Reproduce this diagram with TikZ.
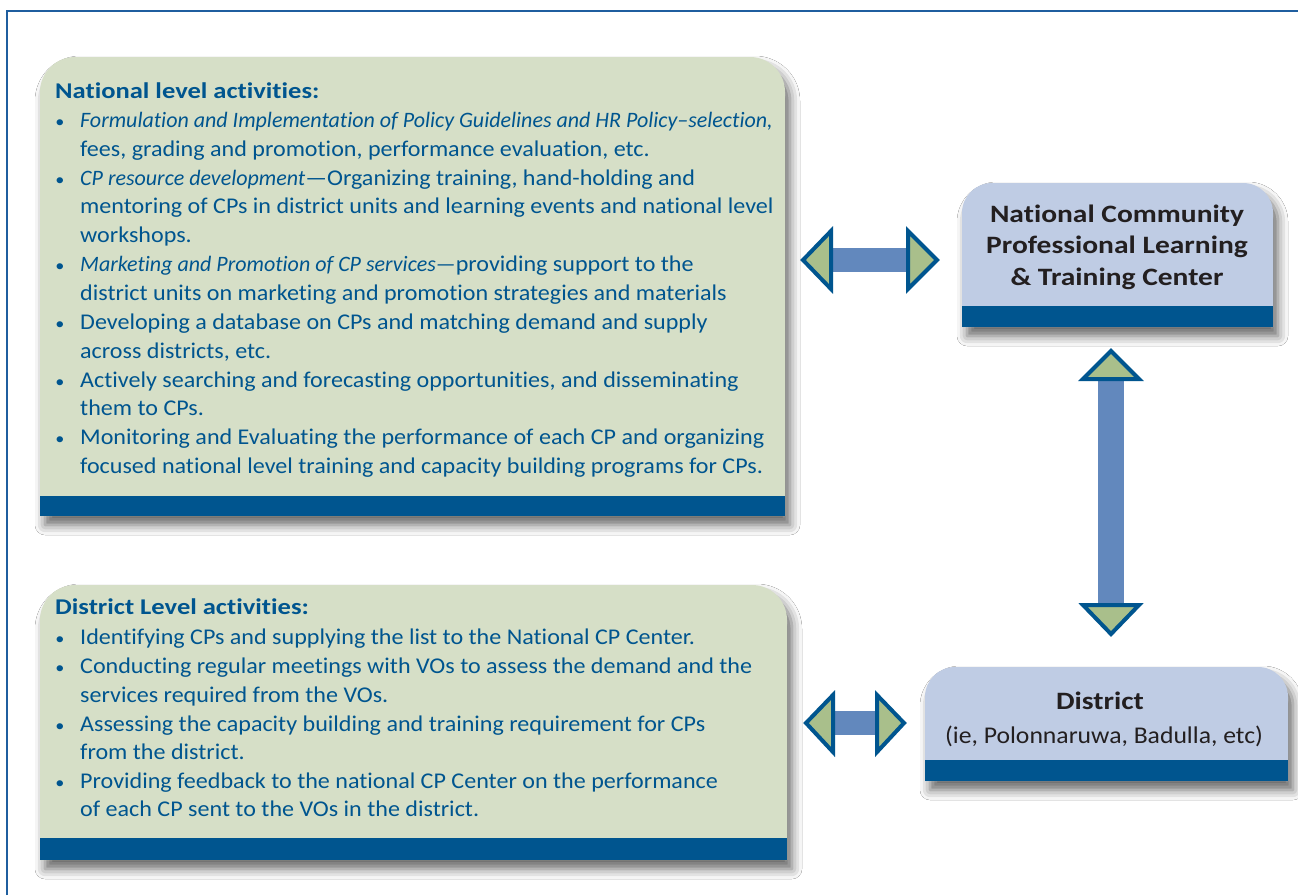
\documentclass[tikz,border=0pt]{standalone}
\usepackage{fontspec}
\setmainfont{Carlito}[FakeStretch=1.07,Ligatures={NoCommon}]
\newfontfamily\titlefont{Carlito}[FakeStretch=1.18,Ligatures={NoCommon}]
\newfontfamily\itfont{Carlito}[FakeStretch=1.0,Ligatures={NoCommon}]
\usetikzlibrary{shadows.blur}
\definecolor{boxgreen}{HTML}{D6DFC7}
\definecolor{bandblue}{HTML}{00558F}
\definecolor{boxblue}{HTML}{BFCCE4}
\definecolor{shaftblue}{HTML}{6288BD}
\definecolor{headgreen}{HTML}{A9BF8B}
\definecolor{txtblue}{HTML}{00558F}
\definecolor{txtdark}{HTML}{231F20}
\definecolor{framecol}{HTML}{1F5E9F}
\newcommand{\IT}[1]{{\itfont\fontsize{22}{25}\selectfont\itshape #1}}
\tikzset{
  shadowed/.style={blur shadow={shadow xshift=5pt,shadow yshift=-9pt,shadow blur radius=10pt,shadow opacity=60}},
  bodyline/.style={anchor=mid west,inner sep=0pt,text=txtblue,font=\fontsize{22.5}{25}\selectfont},
  titleline/.style={anchor=mid west,inner sep=0pt,text=txtblue,font=\titlefont\fontsize{22.5}{25}\selectfont\bfseries},
  bul/.style={anchor=mid,inner sep=0pt,text=txtblue,font=\fontsize{17}{18}\selectfont},
  headline/.style={anchor=mid,inner sep=0pt,text=txtdark,font=\titlefont\fontsize{25}{30}\selectfont\bfseries},
  subline/.style={anchor=mid,inner sep=0pt,text=txtdark,font=\fontsize{24}{28}\selectfont},
  shaft/.style={fill=shaftblue},
  arrowhead/.style={fill=headgreen,draw=bandblue,line width=4pt,line join=miter}
}
\begin{document}
\begin{tikzpicture}[x=1pt,y=1pt]
\useasboundingbox (0,0) rectangle (1298,-895);
\fill[white] (0,0) rectangle (1298,-895);
% frame
\draw[framecol,line width=2pt] (7,-895) -- (7,-11) -- (1298,-11);

% ---- boxes ----
\path[fill=boxgreen,shadowed] (40,-516) -- (40,-92) arc[start angle=180,end angle=90,radius=35] -- (750,-57) arc[start angle=90,end angle=0,radius=35] -- (785,-516) -- cycle;
\fill[bandblue] (40,-496) rectangle (785,-516);
\path[fill=boxgreen,shadowed] (40,-860) -- (40,-620) arc[start angle=180,end angle=90,radius=35] -- (752,-585) arc[start angle=90,end angle=0,radius=35] -- (787,-860) -- cycle;
\fill[bandblue] (40,-838) rectangle (787,-860);
\path[fill=boxblue,shadowed] (962,-327) -- (962,-213) arc[start angle=180,end angle=90,radius=30] -- (1243,-183) arc[start angle=90,end angle=0,radius=30] -- (1273,-327) -- cycle;
\fill[bandblue] (962,-306) rectangle (1273,-327);
\path[fill=boxblue,shadowed] (925,-781) -- (925,-697) arc[start angle=180,end angle=90,radius=30] -- (1258,-667) arc[start angle=90,end angle=0,radius=30] -- (1288,-781) -- cycle;
\fill[bandblue] (925,-760) rectangle (1288,-781);

% ---- national activities text ----
\node[titleline] (nt) at (55,-96) {National level activities:};
\node[bul] (nb1) at (60,-125) {•};
\node[bodyline] (n1) at (80,-125) {\IT{Formulation and Implementation of Policy Guidelines and HR Policy–selection,}};
\node[bodyline] (n2) at (80,-154) {fees, grading and promotion, performance evaluation, etc.};
\node[bul] (nb2) at (60,-183) {•};
\node[bodyline] (n3) at (80,-183) {\IT{CP resource development}—Organizing training, hand-holding and};
\node[bodyline] (n4) at (80,-211) {mentoring of CPs in district units and learning events and national level};
\node[bodyline] (n5) at (80,-240) {workshops.};
\node[bul] (nb3) at (60,-269) {•};
\node[bodyline] (n6) at (80,-269) {\IT{Marketing and Promotion of CP services—}providing support to the};
\node[bodyline] (n7) at (80,-298) {district units on marketing and promotion strategies and materials};
\node[bul] (nb4) at (60,-327) {•};
\node[bodyline] (n8) at (80,-327) {Developing a database on CPs and matching demand and supply};
\node[bodyline] (n9) at (80,-356) {across districts, etc.};
\node[bul] (nb5) at (60,-385) {•};
\node[bodyline] (n10) at (80,-385) {Actively searching and forecasting opportunities, and disseminating};
\node[bodyline] (n11) at (80,-413) {them to CPs.};
\node[bul] (nb6) at (60,-442) {•};
\node[bodyline] (n12) at (80,-442) {Monitoring and Evaluating the performance of each CP and organizing};
\node[bodyline] (n13) at (80,-471) {focused national level training and capacity building programs for CPs.};

% ---- district activities text ----
\node[titleline] (dt) at (55,-612) {District Level activities:};
\node[bul] (db1) at (60,-642) {•};
\node[bodyline] (d1) at (80,-642) {Identifying CPs and supplying the list to the National CP Center.};
\node[bul] (db2) at (60,-671) {•};
\node[bodyline] (d2) at (80,-671) {Conducting regular meetings with VOs to assess the demand and the};
\node[bodyline] (d3) at (80,-700) {services required from the VOs.};
\node[bul] (db3) at (60,-729) {•};
\node[bodyline] (d4) at (80,-729) {Assessing the capacity building and training requirement for CPs};
\node[bodyline] (d5) at (80,-757) {from the district.};
\node[bul] (db4) at (60,-786) {•};
\node[bodyline] (d6) at (80,-786) {Providing feedback to the national CP Center on the performance};
\node[bodyline] (d7) at (80,-814) {of each CP sent to the VOs in the district.};

% ---- blue boxes text ----
\node[headline] (c1) at (1117,-220) {National Community};
\node[headline] (c2) at (1117,-251) {Professional Learning};
\node[headline] (c3) at (1117,-283) {\& Training Center};
\node[headline] (k1) at (1100,-707) {District};
\node[subline] (k2) at (1104,-741) {(ie, Polonnaruwa, Badulla, etc)};

% ---- double arrows ----
\coordinate (ha) at (803,-260);
\coordinate (hb) at (937,-260);
\fill[shaft] (828,-248) rectangle (910,-272);
\draw[arrowhead] (ha) -- (831,-231) -- (831,-289) -- cycle;
\draw[arrowhead] (hb) -- (908,-231) -- (908,-289) -- cycle;
\coordinate (va) at (1111,-351);
\coordinate (vb) at (1111,-634);
\fill[shaft] (1098,-378) rectangle (1124,-606);
\draw[arrowhead] (va) -- (1083,-379) -- (1139,-379) -- cycle;
\draw[arrowhead] (vb) -- (1083,-605) -- (1139,-605) -- cycle;
\coordinate (la) at (806,-723);
\coordinate (lb) at (904,-723);
\fill[shaft] (831,-711) rectangle (880,-735);
\draw[arrowhead] (la) -- (833,-695) -- (833,-752) -- cycle;
\draw[arrowhead] (lb) -- (877,-695) -- (877,-752) -- cycle;
\end{tikzpicture}
\end{document}
